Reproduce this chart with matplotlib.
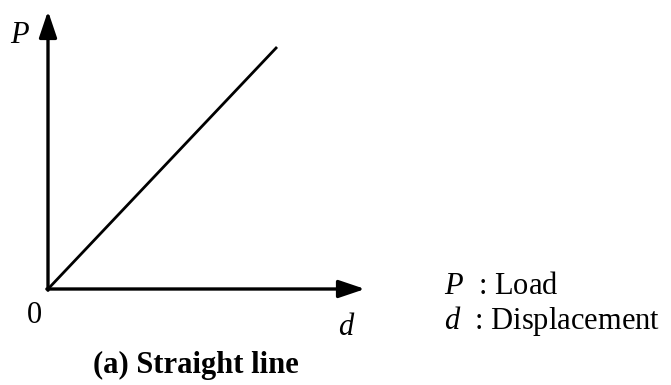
import matplotlib
matplotlib.use('Agg')
import matplotlib.pyplot as plt

plt.rcParams['font.family'] = ['Liberation Serif', 'DejaVu Serif']
plt.rcParams['mathtext.fontset'] = 'custom'
plt.rcParams['mathtext.it'] = 'Liberation Serif:italic'
plt.rcParams['mathtext.rm'] = 'Liberation Serif'

# load-displacement relation, linear
d = [0.0, 1.0]
P = [0.0, 1.0]

caption = '(a) Straight line'
legend_lines = ['$P$  : Load', '$d$  : Displacement']

W, H = 671, 385
fig = plt.figure(figsize=(W / 100, H / 100), dpi=100)


def fx(px):
    return px / W


def fy(py):
    return 1 - py / H


# axes origin and end of line, in figure pixels (from top-left)
x0, y0 = 48, 289
x1, y1 = 277, 47
ax = fig.add_axes([fx(x0), fy(y0), (x1 - x0) / W, (y0 - y1) / H])
ax.set_xlim(0, 1)
ax.set_ylim(0, 1)
ax.axis('off')

ax.plot(d, P, color='black', lw=2.0, clip_on=False, solid_capstyle='butt')

# axis arrows
arrow = dict(arrowstyle='-|>,head_length=0.8,head_width=0.27', color='black', lw=2.4,
             shrinkA=0, shrinkB=0, mutation_scale=20)
ax.annotate('', xy=((365 - x0) / (x1 - x0), 0), xytext=(-0.005, 0),
            xycoords='axes fraction', arrowprops=arrow, annotation_clip=False)
ax.annotate('', xy=(0, (y0 - 11) / (y0 - y1)), xytext=(0, -0.005),
            xycoords='axes fraction', arrowprops=arrow, annotation_clip=False)

fs = 22
fig.text(fx(10), fy(43), '$P$', fontsize=fs, ha='left', va='baseline')
fig.text(fx(34), fy(323), '0', fontsize=fs, ha='center', va='baseline')
fig.text(fx(347), fy(335), '$d$', fontsize=fs, ha='center', va='baseline')
fig.text(fx(444), fy(294), legend_lines[0], fontsize=fs, ha='left', va='baseline')
fig.text(fx(444), fy(329), legend_lines[1], fontsize=fs, ha='left', va='baseline')
fig.text(fx(196), fy(373), caption, fontsize=fs, fontweight='bold',
         ha='center', va='baseline')

fig.savefig('out.png', dpi=100)
